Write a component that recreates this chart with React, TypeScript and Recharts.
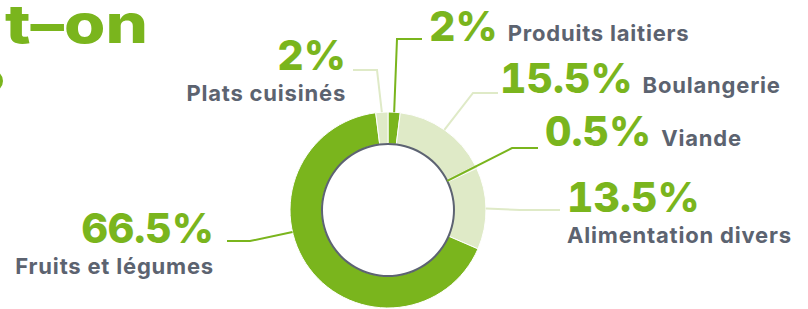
import { PieChart, Pie, Cell } from "recharts";

const categories = [
  "Produits laitiers",
  "Boulangerie",
  "Viande",
  "Alimentation divers",
  "Fruits et légumes",
  "Plats cuisinés",
];
const shares = [2, 15.5, 0.5, 13.5, 66.5, 2];
const shareLabels = ["2%", "15.5%", "0.5%", "13.5%", "66.5%", "2%"];
const shades = ["dark", "light", "light", "light", "dark", "light"];
const lineShades = ["dark", "light", "dark", "light", "dark", "light"];

const GREEN = "#7ab51d";
const PALE = "#dfeac7";
const GREY = "#5c6370";

const data = categories.map((name, i) => ({ name, value: shares[i] }));

// label placement: where the leader line bends / ends and where the text sits
const layout: Record<string, any> = {
  "Produits laitiers": { elbow: [397, 39], end: [422, 39], tx: 429, ty: 41, anchor: "start", inline: true },
  Boulangerie: { elbow: [473, 93], end: [498, 93], tx: 500, ty: 93, anchor: "start", inline: true },
  Viande: { elbow: [512, 148], end: [538, 148], tx: 545, ty: 146, anchor: "start", inline: true, inner: true },
  "Alimentation divers": { elbow: [520, 210], end: [560, 210], tx: 567, ty: 212, anchor: "start" },
  "Fruits et légumes": { elbow: [250, 241], end: [227, 241], tx: 214, ty: 243, anchor: "end", angle: 193 },
  "Plats cuisinés": { elbow: [377, 70], end: [353, 70], tx: 346, ty: 70, anchor: "end" },
};

const RAD = Math.PI / 180;
const pctStyle = { fontVariantNumeric: "tabular-nums" } as any;

function renderLabel(props: any) {
  const { cx, cy, midAngle, outerRadius, innerRadius, index } = props;
  const name = categories[index];
  const l = layout[name];
  const ang = l.angle ?? midAngle;
  const r = l.inner ? innerRadius : outerRadius;
  const sx = cx + Math.cos(-ang * RAD) * r;
  const sy = cy + Math.sin(-ang * RAD) * r;
  const lineColor = lineShades[index] === "dark" ? GREEN : PALE;
  return (
    <g key={name}>
      <polyline
        points={`${sx},${sy} ${l.elbow[0]},${l.elbow[1]} ${l.end[0]},${l.end[1]}`}
        fill="none"
        stroke={lineColor}
        strokeWidth={2}
      />
      {l.inline ? (
        <text x={l.tx} y={l.ty} textAnchor="start" fontFamily="Inter, sans-serif">
          <tspan fill={GREEN} fontSize={41} fontWeight={800} style={pctStyle}>
            {shareLabels[index]}
          </tspan>
          <tspan fill={GREY} fontSize={22} fontWeight={700} letterSpacing={0.8} dx={10}>
            {name}
          </tspan>
        </text>
      ) : (
        <g>
          <text
            x={l.tx}
            y={l.ty}
            textAnchor={l.anchor}
            fill={GREEN}
            fontSize={41}
            fontWeight={800}
            style={pctStyle}
            fontFamily="Inter, sans-serif"
          >
            {shareLabels[index]}
          </text>
          <text
            x={l.tx}
            y={l.ty + 31}
            textAnchor={l.anchor}
            fill={GREY}
            fontSize={22}
            fontWeight={700}
            letterSpacing={0.8}
            fontFamily="Inter, sans-serif"
          >
            {name}
          </text>
        </g>
      )}
    </g>
  );
}

export default function App() {
  return (
    <div style={{ position: "relative", width: 808, height: 309, background: "#fff" }}>
      <style>{`body{margin:0}`}</style>
      <PieChart width={808} height={309} margin={{ top: 0, right: 0, bottom: 0, left: 0 }}>
        <Pie
          data={data}
          dataKey="value"
          nameKey="name"
          cx={388}
          cy={210}
          innerRadius={66}
          outerRadius={98}
          startAngle={90}
          endAngle={-270}
          stroke="#fff"
          strokeWidth={1}
          label={renderLabel}
          labelLine={false}
          isAnimationActive={false}
        >
          {data.map((d, i) => (
            <Cell
              key={d.name}
              fill={shades[i] === "dark" ? GREEN : PALE}
              stroke={d.name === "Viande" ? PALE : "#fff"}
            />
          ))}
        </Pie>
        <Pie
          data={[{ name: "ring", value: 1 }]}
          dataKey="value"
          cx={388}
          cy={210}
          innerRadius={65}
          outerRadius={67}
          startAngle={90}
          endAngle={-270}
          fill="#5d6372"
          stroke="none"
          isAnimationActive={false}
        />
      </PieChart>
      <svg
        width={808}
        height={309}
        style={{ position: "absolute", left: 0, top: 0, pointerEvents: "none" }}
      >
        <text
          x={5}
          y={43}
          fill={GREEN}
          fontSize={54}
          fontWeight={800}
          fontFamily="Inter, sans-serif"
          textLength={143}
          lengthAdjust="spacingAndGlyphs"
        >
          t–on
        </text>
        <circle cx={-8} cy={81} r={9} fill="none" stroke={GREEN} strokeWidth={4} />
      </svg>
    </div>
  );
}
